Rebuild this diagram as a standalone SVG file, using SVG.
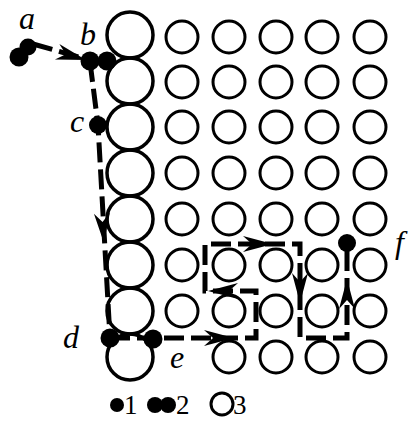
<svg xmlns="http://www.w3.org/2000/svg" xmlns:xlink="http://www.w3.org/1999/xlink" width="420" height="421" viewBox="0 0 420 421">
<style>
.big{fill:none;stroke:#000;stroke-width:3.5}
.sm{fill:none;stroke:#000;stroke-width:3}
.dot{fill:#000}
.path{fill:none;stroke:#000;stroke-width:5;stroke-dasharray:20 7;stroke-linejoin:miter}
.lbl{font-family:"Liberation Serif","Times New Roman",serif;font-style:italic;font-size:32px;fill:#000}
.leg{font-family:"Liberation Serif","Times New Roman",serif;font-style:normal;font-size:27px;fill:#000}
</style>
<defs>
<path id="ah" d="M0,0 L-30,-8 L-21,0 L-30,8 Z" fill="#000"/>
</defs>
<rect width="420" height="421" fill="#fff"/>
<g id="lattice">
<g id="big-column">
<circle class="big" cx="130" cy="35" r="23"/>
<circle class="big" cx="130" cy="81" r="23"/>
<circle class="big" cx="130" cy="127" r="23"/>
<circle class="big" cx="130" cy="173" r="23"/>
<circle class="big" cx="130" cy="219" r="23"/>
<circle class="big" cx="130" cy="265" r="23"/>
<circle class="big" cx="130" cy="311" r="23"/>
<circle class="big" cx="130" cy="357" r="23"/>
</g>
<g id="small-row1"><circle class="sm" cx="182" cy="37" r="16"/><circle class="sm" cx="229" cy="37" r="16"/><circle class="sm" cx="276" cy="37" r="16"/><circle class="sm" cx="322" cy="37" r="16"/><circle class="sm" cx="370" cy="37" r="16"/></g>
<g id="small-row2"><circle class="sm" cx="182" cy="82" r="16"/><circle class="sm" cx="229" cy="82" r="16"/><circle class="sm" cx="276" cy="82" r="16"/><circle class="sm" cx="322" cy="82" r="16"/><circle class="sm" cx="370" cy="82" r="16"/></g>
<g id="small-row3"><circle class="sm" cx="182" cy="127" r="16"/><circle class="sm" cx="229" cy="127" r="16"/><circle class="sm" cx="276" cy="127" r="16"/><circle class="sm" cx="322" cy="127" r="16"/><circle class="sm" cx="370" cy="127" r="16"/></g>
<g id="small-row4"><circle class="sm" cx="182" cy="173" r="16"/><circle class="sm" cx="229" cy="173" r="16"/><circle class="sm" cx="276" cy="173" r="16"/><circle class="sm" cx="322" cy="173" r="16"/><circle class="sm" cx="370" cy="173" r="16"/></g>
<g id="small-row5"><circle class="sm" cx="182" cy="219" r="16"/><circle class="sm" cx="229" cy="219" r="16"/><circle class="sm" cx="276" cy="219" r="16"/><circle class="sm" cx="322" cy="219" r="16"/><circle class="sm" cx="370" cy="219" r="16"/></g>
<g id="small-row6"><circle class="sm" cx="182" cy="265" r="16"/><circle class="sm" cx="229" cy="265" r="16"/><circle class="sm" cx="276" cy="265" r="16"/><circle class="sm" cx="322" cy="265" r="16"/><circle class="sm" cx="370" cy="265" r="16"/></g>
<g id="small-row7"><circle class="sm" cx="182" cy="311" r="16"/><circle class="sm" cx="229" cy="311" r="16"/><circle class="sm" cx="276" cy="311" r="16"/><circle class="sm" cx="322" cy="311" r="16"/><circle class="sm" cx="370" cy="311" r="16"/></g>
<g id="small-row8"><circle class="sm" cx="229" cy="357" r="16"/><circle class="sm" cx="276" cy="357" r="16"/><circle class="sm" cx="322" cy="357" r="16"/><circle class="sm" cx="370" cy="357" r="16"/></g>
</g>
<g id="connectors">
<polyline class="path" points="33,44 86,59"/>
<polyline class="path" points="90,62 98,125 110,338"/>
<polyline class="path" points="110,338 256,338 256,291 205,291 205,244 300,244 300,338 347,338 347,250"/>
<use xlink:href="#ah" transform="translate(86,60) rotate(16)"/>
<use xlink:href="#ah" transform="translate(104,243) rotate(86)"/>
<use xlink:href="#ah" transform="translate(234,338)"/>
<use xlink:href="#ah" transform="translate(208,291) rotate(180)"/>
<use xlink:href="#ah" transform="translate(273,244)"/>
<use xlink:href="#ah" transform="translate(300,303) rotate(90)"/>
<use xlink:href="#ah" transform="translate(347,279) rotate(-90)"/>
</g>
<g id="node-a">
<circle class="dot" cx="19" cy="57" r="9.5"/>
<circle class="dot" cx="28" cy="47" r="8.5"/>
<text class="lbl" x="19" y="29">a</text>
</g>
<g id="node-b">
<circle class="dot" cx="90" cy="61" r="9.5"/>
<circle class="dot" cx="107" cy="61" r="9.5"/>
<text class="lbl" x="80" y="45">b</text>
</g>
<g id="node-c">
<circle class="dot" cx="98" cy="125" r="9"/>
<text class="lbl" x="70" y="132">c</text>
</g>
<g id="node-d">
<circle class="dot" cx="110" cy="338" r="9.5"/>
<circle class="dot" cx="153" cy="339" r="9.5"/>
<text class="lbl" x="63" y="348">d</text>
</g>
<g id="node-e">
<text class="lbl" x="170" y="368">e</text>
</g>
<g id="node-f">
<circle class="dot" cx="347" cy="243" r="9"/>
<text class="lbl" x="395" y="253">f</text>
</g>
<g id="legend">
<circle class="dot" cx="117" cy="405" r="7"/>
<text class="leg" x="124" y="414">1</text>
<circle class="dot" cx="155" cy="405" r="8"/>
<circle class="dot" cx="168" cy="405" r="8"/>
<text class="leg" x="176" y="414">2</text>
<circle cx="222" cy="404" r="11" fill="none" stroke="#000" stroke-width="3"/>
<text class="leg" x="233" y="414">3</text>
</g>
</svg>
